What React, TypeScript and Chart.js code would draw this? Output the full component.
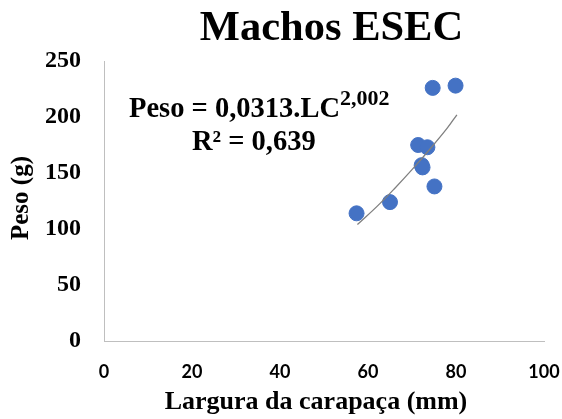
import React, { useEffect, useRef } from "react";
import { Chart, registerables } from "chart.js";

Chart.register(...registerables);

const larguras = [57.4, 65, 71.4, 73.5, 72.2, 72.4, 75.1, 74.7, 79.9];
const pesos = [114, 124, 175, 173, 157, 155, 138, 226, 228];

const trendX = [57.6, 62, 66, 70, 74, 78, 80.2];
const trendY = [104, 120, 136, 153, 171, 190, 202];

const xTicks = [0, 20, 40, 60, 80, 100];
const yTicks = [0, 50, 100, 150, 200, 250];

const titleText = "Machos ESEC";
const xTitle = "Largura da carapaça (mm)";
const yTitle = "Peso (g)";
const eqMain = "Peso = 0,0313.LC";
const eqExp = "2,002";
const r2Text = "R² = 0,639";

const SERIF = '"Liberation Serif", "Times New Roman", serif';

const textPlugin = {
  id: "textPlugin",
  afterDraw(chart: any) {
    const ctx = chart.ctx;
    ctx.save();
    ctx.fillStyle = "#000000";
    // title
    ctx.font = `bold 42.5px ${SERIF}`;
    ctx.textAlign = "center";
    ctx.textBaseline = "alphabetic";
    ctx.fillText(titleText, 331.5, 39.5);
    // x title
    ctx.font = `bold 26px ${SERIF}`;
    ctx.fillText(xTitle, 316, 409);
    // y title
    ctx.save();
    ctx.translate(28, 198);
    ctx.rotate(-Math.PI / 2);
    ctx.font = `bold 25px ${SERIF}`;
    ctx.fillText(yTitle, 0, 0);
    ctx.restore();
    // equation
    ctx.textAlign = "left";
    ctx.font = `bold 28.5px ${SERIF}`;
    ctx.fillText(eqMain, 129, 117);
    const w = ctx.measureText(eqMain).width;
    ctx.font = `bold 22px ${SERIF}`;
    ctx.fillText(eqExp, 129 + w, 105);
    ctx.font = `bold 28.5px ${SERIF}`;
    ctx.fillText(r2Text, 192, 150);
    ctx.restore();
  },
};

export default function App() {
  const ref = useRef<HTMLCanvasElement | null>(null);
  useEffect(() => {
    if (!ref.current) return;
    const chart = new Chart(ref.current, {
      type: "scatter",
      data: {
        datasets: [
          {
            label: "Peso",
            data: larguras.map((x, i) => ({ x, y: pesos[i] })),
            backgroundColor: "#4472C4",
            borderColor: "#4472C4",
            pointRadius: 7.5,
            pointHoverRadius: 7.5,
            order: 2,
          },
          {
            label: "Tendência",
            type: "line",
            data: trendX.map((x, i) => ({ x, y: trendY[i] })),
            borderColor: "#7f7f7f",
            borderWidth: 1.3,
            pointRadius: 0,
            tension: 0.4,
            fill: false,
            order: 1,
          } as any,
        ],
      },
      options: {
        responsive: false,
        animation: false,
        layout: { padding: { top: 61, right: 0, left: 0, bottom: 0 } },
        plugins: {
          legend: { display: false },
          title: { display: false },
          tooltip: { enabled: false },
        },
        scales: {
          x: {
            type: "linear",
            min: 0,
            max: 100,
            afterBuildTicks: (s: any) => {
              s.ticks = xTicks.map((v) => ({ value: v }));
            },
            afterFit: (s: any) => {
              s.height = 78;
              s.paddingRight = 18;
              s.paddingLeft = 0;
            },
            grid: { display: false, drawTicks: false },
            border: { display: true, color: "#bfbfbf", width: 1 },
            ticks: {
              padding: 20,
              color: "#000000",
              font: { family: "Lato", weight: "bold", size: 18 },
            },
          },
          y: {
            type: "linear",
            min: 0,
            max: 250,
            afterBuildTicks: (s: any) => {
              s.ticks = yTicks.map((v) => ({ value: v }));
            },
            afterFit: (s: any) => {
              s.width = 104;
            },
            grid: { display: false, drawTicks: false },
            border: { display: true, color: "#bfbfbf", width: 1 },
            ticks: {
              padding: 23,
              color: "#000000",
              font: { family: SERIF, weight: "bold", size: 24 },
            },
          },
        },
      },
      plugins: [textPlugin],
    });
    return () => chart.destroy();
  }, []);
  return (
    <div style={{ position: "fixed", left: 0, top: 0, width: 562, height: 419, background: "#ffffff" }}>
      <canvas ref={ref} width={562} height={419} style={{ width: 562, height: 419 }} />
    </div>
  );
}
